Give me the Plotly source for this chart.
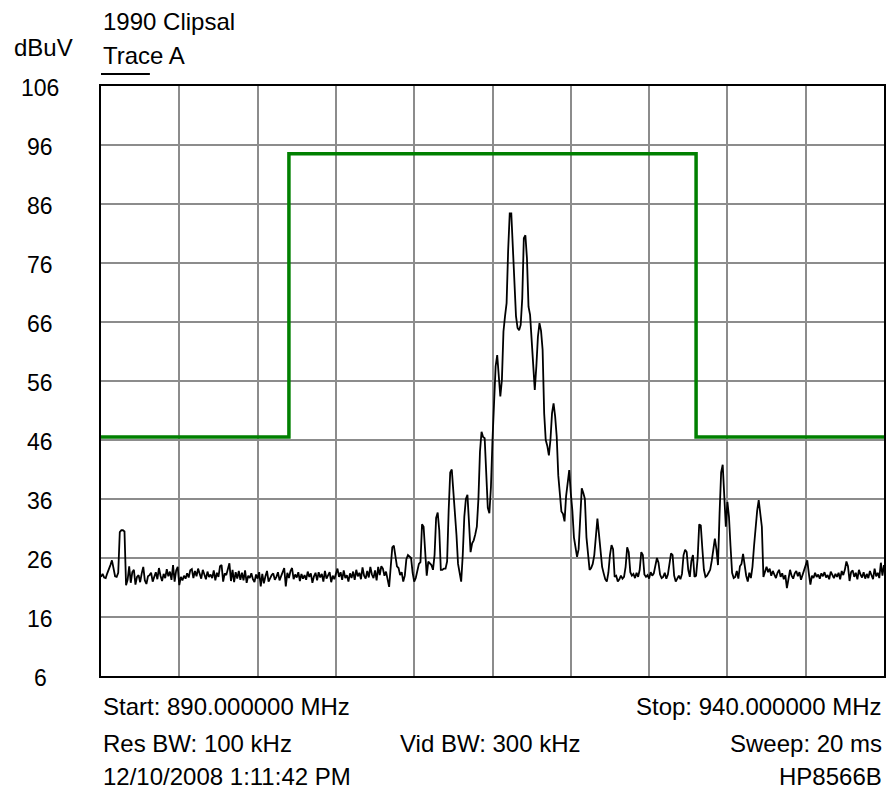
import plotly.graph_objects as go

# ---- Data -------------------------------------------------------------
start_mhz = 890.0
stop_mhz = 940.0
step_mhz = 0.1

# Measured trace level (dBuV), one row per MHz (10 points of 0.1 MHz each)
trace_dbuv = [
    22.8, 23.3, 22.7, 22.6, 23.4, 24.0, 24.8, 25.6, 24.1, 22.9,   # 890
    22.8, 23.5, 30.4, 30.7, 30.7, 30.5, 21.4, 22.3, 24.6, 21.8,   # 891
    23.6, 24.0, 21.5, 22.8, 23.1, 21.9, 23.4, 24.5, 22.2, 21.6,   # 892
    22.9, 23.1, 23.5, 22.0, 22.8, 23.6, 22.4, 24.3, 23.0, 22.1,   # 893
    23.3, 22.6, 24.1, 22.9, 23.7, 22.3, 24.8, 22.0, 23.9, 24.5,   # 894
    21.4, 22.8, 22.2, 23.0, 22.5, 23.4, 22.7, 23.9, 24.1, 22.6,   # 895
    23.8, 22.9, 24.2, 23.1, 22.5, 24.0, 23.3, 22.4, 23.7, 22.8,   # 896
    23.2, 22.6, 23.9, 22.2, 23.5, 22.8, 24.6, 24.8, 22.0, 23.4,   # 897
    23.1, 24.2, 25.1, 22.1, 24.0, 21.9, 23.6, 22.5, 23.8, 22.3,   # 898
    23.5, 22.2, 23.9, 21.8, 23.0, 22.6, 23.4, 22.4, 21.9, 23.2,   # 899
    22.5, 23.6, 21.2, 23.3, 21.7, 22.9, 23.8, 22.0, 22.6, 23.1,   # 900
    23.4, 22.3, 22.8, 23.6, 22.2, 23.0, 23.9, 24.3, 21.2, 23.5,   # 901
    22.6, 23.8, 24.3, 22.4, 23.2, 22.7, 23.6, 22.1, 23.3, 22.5,   # 902
    23.1, 22.3, 23.7, 22.8, 23.4, 21.8, 22.9, 23.5, 22.2, 23.6,   # 903
    22.7, 23.3, 22.0, 23.8, 22.5, 23.1, 23.6, 21.9, 23.0, 22.4,   # 904
    23.5, 24.2, 22.8, 23.6, 22.3, 23.9, 22.6, 23.1, 22.0, 23.4,   # 905
    22.6, 23.7, 22.3, 24.0, 22.9, 23.5, 22.4, 24.4, 23.0, 22.5,   # 906
    23.8, 22.7, 24.5, 23.2, 22.6, 23.9, 22.2, 24.5, 23.1, 24.6,   # 907
    24.2, 23.0, 23.7, 22.5, 21.1, 24.5, 27.8, 28.1, 26.5, 24.6,   # 908
    24.3, 23.1, 23.6, 22.0, 23.0, 25.8, 26.5, 26.2, 26.0, 23.5,   # 909
    22.0, 22.6, 24.0, 25.0, 25.3, 31.7, 31.3, 27.9, 23.0, 25.4,   # 910
    25.0, 24.8, 24.0, 26.5, 32.8, 33.7, 30.7, 24.0, 24.0, 24.2,   # 911
    24.2, 25.4, 34.0, 40.5, 41.0, 37.5, 33.5, 29.9, 25.0, 23.7,   # 912
    22.0, 26.5, 33.0, 36.0, 36.7, 32.0, 27.0, 28.5, 29.0, 30.0,   # 913
    31.3, 36.0, 44.0, 47.4, 46.5, 46.3, 39.2, 34.5, 33.6, 38.0,   # 914
    46.0, 53.5, 58.5, 60.4, 57.0, 53.4, 56.2, 64.4, 67.0, 69.2,   # 915
    78.2, 84.4, 84.4, 78.2, 71.7, 67.0, 65.0, 64.6, 65.5, 70.0,   # 916
    80.2, 80.7, 76.8, 68.6, 67.2, 62.4, 59.0, 54.5, 58.5, 63.5,   # 917
    65.8, 64.5, 61.3, 50.5, 46.0, 45.0, 43.4, 46.0, 50.5, 52.2,   # 918
    50.0, 46.6, 40.0, 36.0, 33.9, 33.5, 32.2, 36.5, 39.0, 40.9,   # 919
    37.0, 34.0, 29.5, 28.0, 26.2, 27.5, 33.0, 37.8, 37.0, 36.0,   # 920
    29.5, 26.0, 24.0, 24.3, 25.0, 26.5, 30.5, 32.7, 30.0, 26.5,   # 921
    24.5, 23.4, 22.4, 22.0, 23.5, 26.5, 28.2, 27.5, 22.8, 23.0,   # 922
    22.0, 22.4, 23.0, 22.5, 22.8, 24.5, 27.8, 27.0, 23.6, 23.0,   # 923
    23.3, 22.6, 23.5, 22.8, 24.0, 27.0, 26.5, 23.2, 22.8, 23.1,   # 924
    22.5, 23.6, 23.0, 23.4, 25.0, 26.0, 25.2, 23.2, 22.6, 22.8,   # 925
    23.5, 22.5, 23.2, 25.0, 26.8, 26.5, 23.0, 22.0, 22.6, 23.0,   # 926
    22.4, 23.3, 26.5, 27.4, 27.0, 24.0, 22.8, 25.5, 26.5, 22.8,   # 927
    23.0, 26.0, 31.7, 31.5, 27.6, 24.0, 22.8, 23.0, 23.5, 24.0,   # 928
    25.5, 28.0, 29.3, 27.5, 24.8, 33.6, 40.5, 41.8, 36.0, 31.3,   # 929
    35.5, 33.0, 28.0, 23.5, 22.6, 22.8, 23.8, 22.5, 24.6, 25.0,   # 930
    26.7, 24.8, 23.0, 22.0, 23.5, 22.6, 24.5, 28.0, 31.5, 34.0,   # 931
    35.8, 33.5, 31.3, 22.8, 23.5, 24.5, 23.6, 24.2, 23.0, 23.8,   # 932
    23.2, 22.6, 23.5, 24.0, 22.8, 23.4, 22.4, 23.1, 20.9, 22.6,   # 933
    24.0, 23.0, 22.5, 23.4, 23.8, 22.9, 23.6, 22.3, 23.2, 24.1,   # 934
    24.8, 25.6, 23.4, 21.5, 23.0, 22.6, 23.5, 22.8, 23.2, 22.5,   # 935
    23.4, 22.9, 23.6, 22.7, 23.1, 22.4, 23.7, 23.0, 22.6, 23.3,   # 936
    22.8, 23.5, 22.4, 23.8, 23.1, 24.0, 25.4, 24.6, 22.1, 23.6,   # 937
    23.9, 22.8, 23.5, 22.4, 24.0, 23.2, 22.7, 23.6, 22.5, 23.3,   # 938
    22.6, 23.8, 23.1, 22.4, 24.2, 22.9, 23.5, 22.6, 25.2, 23.0,   # 939
    24.8,                                                          # 940
]

# Limit line (step)
limit_freq = [890.0, 902.0, 928.0, 940.0]
limit_dbuv = [46.5, 94.5, 46.5, 46.5]

y_ticks = [106, 96, 86, 76, 66, 56, 46, 36, 26, 16, 6]

title_text = "1990 Clipsal"
unit_text = "dBuV"
trace_label = "Trace A"
footer_left = ["Start: 890.000000 MHz", "Res BW: 100 kHz", "12/10/2008 1:11:42 PM"]
footer_mid = ["", "Vid BW: 300 kHz", ""]
footer_right = ["Stop: 940.000000 MHz", "Sweep: 20 ms", "HP8566B"]

# ---- Figure -----------------------------------------------------------
freqs = [round(start_mhz + i * step_mhz, 3) for i in range(len(trace_dbuv))]

W, H = 888, 788
ML = 101
MR = W - 886
MT = 86
MB = H - 676
PW = W - ML - MR
PH = H - MT - MB

FONT = "Arial, Liberation Sans, sans-serif"
FS = 24
FS_TICK = 23

fig = go.Figure()
fig.add_trace(go.Scatter(x=limit_freq, y=limit_dbuv, mode="lines",
                         line=dict(color="#008000", width=3.5, shape="hv"),
                         hoverinfo="skip"))
fig.add_trace(go.Scatter(x=freqs, y=trace_dbuv, mode="lines",
                         line=dict(color="#000000", width=1.8),
                         hoverinfo="skip"))


def px_x(sx):
    """screen column -> paper x"""
    return (sx - ML) / PW


def px_y(sy):
    """screen row -> paper y"""
    return (H - MB - sy) / PH


ann = []
for t in y_ticks:
    ann.append(dict(x=px_x(40), xref="paper", y=t, yref="y", text=str(t),
                    showarrow=False, xanchor="center", yanchor="middle",
                    yshift=-2, font=dict(size=FS_TICK, color="black", family=FONT)))

ann.append(dict(x=0, xref="paper", y=px_y(21), yref="paper", text=title_text,
                showarrow=False, xanchor="left", yanchor="middle",
                font=dict(size=FS, color="black", family=FONT)))
ann.append(dict(x=px_x(12), xref="paper", y=px_y(47), yref="paper",
                text=unit_text, showarrow=False, xanchor="left", yanchor="middle",
                font=dict(size=FS, color="black", family=FONT)))
ann.append(dict(x=0, xref="paper", y=px_y(56), yref="paper", text=trace_label,
                showarrow=False, xanchor="left", yanchor="middle",
                font=dict(size=FS, color="black", family=FONT)))

rows_px = [706, 743, 776]
for i, ypx in enumerate(rows_px):
    if footer_left[i]:
        ann.append(dict(x=0, xref="paper", y=px_y(ypx), yref="paper", text=footer_left[i],
                        showarrow=False, xanchor="left", yanchor="middle",
                        font=dict(size=FS, color="black", family=FONT)))
    if footer_mid[i]:
        ann.append(dict(x=px_x(491), xref="paper", y=px_y(ypx), yref="paper", text=footer_mid[i],
                        showarrow=False, xanchor="center", yanchor="middle",
                        font=dict(size=FS, color="black", family=FONT)))
    if footer_right[i]:
        ann.append(dict(x=1, xref="paper", y=px_y(ypx), yref="paper", text=footer_right[i],
                        showarrow=False, xanchor="right", yanchor="middle",
                        font=dict(size=FS, color="black", family=FONT)))

shapes = [dict(type="line", xref="paper", yref="paper",
               x0=px_x(101), x1=px_x(150), y0=px_y(74), y1=px_y(74),
               line=dict(color="black", width=2))]

fig.update_layout(
    width=W, height=H,
    margin=dict(l=ML, r=MR, t=MT, b=MB, pad=0),
    paper_bgcolor="white", plot_bgcolor="white",
    showlegend=False,
    annotations=ann, shapes=shapes,
    xaxis=dict(range=[start_mhz, stop_mhz], dtick=5, tick0=890,
               showgrid=True, gridcolor="#8c8c8c", gridwidth=2,
               showline=True, linecolor="black", linewidth=2, mirror=True,
               showticklabels=False, ticks="", zeroline=False, fixedrange=True),
    yaxis=dict(range=[6, 106], dtick=10, tick0=6,
               showgrid=True, gridcolor="#8c8c8c", gridwidth=2,
               showline=True, linecolor="black", linewidth=2, mirror=True,
               showticklabels=False, ticks="", zeroline=False, fixedrange=True),
)

# Remove the page's default body margin so the figure fills the window exactly.
page_fix = ("document.documentElement.style.overflow='hidden';"
            "document.body.style.margin='0';"
            "document.body.style.overflow='hidden';")

fig.write_html("out.html", config={"displayModeBar": False}, post_script=page_fix)
